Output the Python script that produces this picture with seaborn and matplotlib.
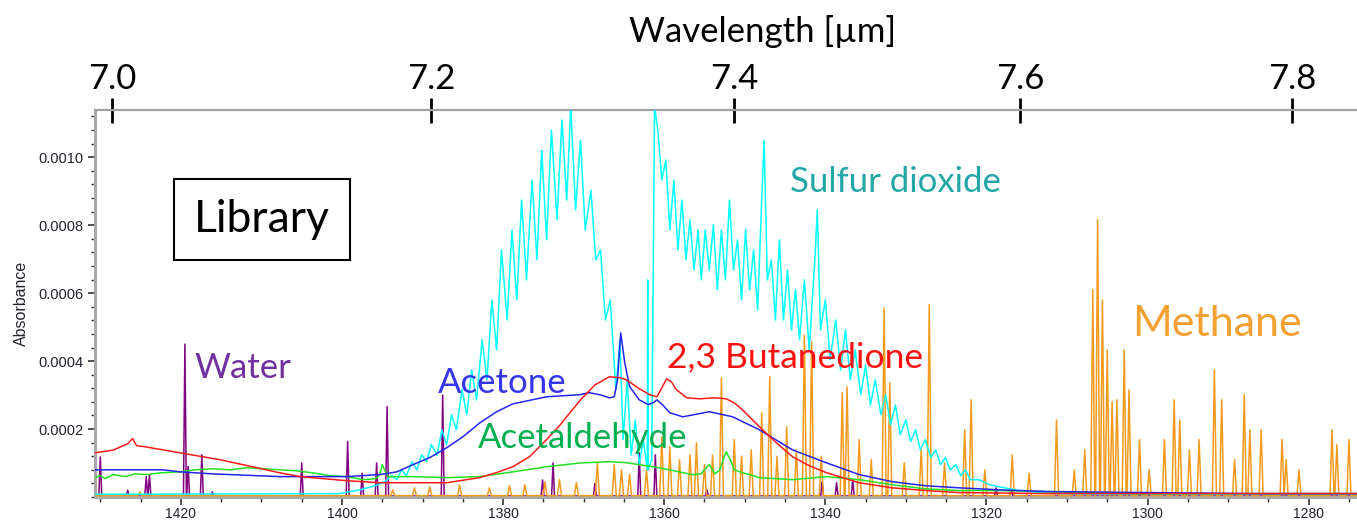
import numpy as np
import pandas as pd
import matplotlib
matplotlib.use("Agg")
import matplotlib.pyplot as plt
import seaborn as sns
from matplotlib.ticker import MultipleLocator, FixedLocator

# ---------------- data (wavenumber [cm-1], absorbance) ----------------
so2_wn = [1430.66, 1400.3, 1397.8, 1395.9, 1394.7, 1393.8, 1393.2, 1392.6, 1392.0, 1391.3,
          1390.7, 1390.1, 1389.5, 1388.9, 1388.2, 1387.6, 1387.0, 1386.4, 1385.8, 1385.1,
          1384.5, 1383.9, 1383.3, 1382.6, 1382.0, 1381.4, 1380.8, 1380.2, 1379.5, 1378.9,
          1378.3, 1377.7, 1377.1, 1376.4, 1375.8, 1375.2, 1374.6, 1374.0, 1373.3, 1372.7,
          1372.1, 1371.6, 1371.0, 1370.4, 1369.8, 1369.1, 1368.5, 1367.9, 1367.3, 1366.7,
          1366.0, 1365.5, 1365.1, 1364.6, 1364.1, 1363.6, 1363.1, 1362.6, 1362.1, 1362.05,
          1362.0, 1361.55, 1361.2, 1360.8, 1360.3, 1359.8, 1359.3, 1358.8, 1358.3, 1357.8,
          1357.3, 1356.8, 1356.3, 1355.8, 1355.4, 1354.9, 1354.4, 1353.9, 1353.4, 1352.9,
          1352.4, 1351.9, 1351.4, 1350.9, 1350.4, 1349.9, 1349.4, 1348.9, 1348.4, 1347.9,
          1347.6, 1347.2, 1346.7, 1346.2, 1345.7, 1345.2, 1344.7, 1344.2, 1343.7, 1343.2,
          1342.6, 1342.0, 1341.3, 1341.0, 1340.6, 1340.0, 1339.4, 1338.7, 1338.1, 1337.5,
          1336.9, 1336.3, 1335.6, 1335.0, 1334.4, 1333.8, 1333.1, 1332.5, 1331.9, 1331.3,
          1330.7, 1330.0, 1329.4, 1328.8, 1328.2, 1327.6, 1326.9, 1326.3, 1325.7, 1325.1,
          1324.5, 1323.8, 1323.2, 1322.6, 1322.0, 1320.9, 1319.6, 1318.4, 1317.1, 1315.9,
          1313.4, 1310.9, 1306.0, 1274.0]
so2_abs = [0.000008, 0.000010, 0.000021, 0.000033, 0.000045, 0.000063, 0.000051, 0.000080, 0.000063, 0.000104,
           0.000080, 0.000124, 0.000104, 0.000154, 0.000124, 0.000198, 0.000154, 0.000242, 0.000198, 0.000316,
           0.000242, 0.000374, 0.000286, 0.000463, 0.000345, 0.000580, 0.000433, 0.000727, 0.000521, 0.000786,
           0.000580, 0.000874, 0.000639, 0.000933, 0.000698, 0.001020, 0.000757, 0.001080, 0.000816, 0.001110,
           0.000874, 0.001150, 0.000845, 0.001050, 0.000786, 0.000903, 0.000698, 0.000727, 0.000521, 0.000580,
           0.000316, 0.000463, 0.000169, 0.000345, 0.000124, 0.000227, 0.000095, 0.000169, 0.000080, 0.000639,
           0.000080, 0.000110, 0.001150, 0.001080, 0.000933, 0.000992, 0.000786, 0.000933, 0.000727, 0.000874,
           0.000698, 0.000816, 0.000668, 0.000786, 0.000639, 0.000786, 0.000668, 0.000801, 0.000610, 0.000786,
           0.000639, 0.000874, 0.000668, 0.000757, 0.000580, 0.000786, 0.000610, 0.000727, 0.000551, 0.000874,
           0.001050, 0.000639, 0.000698, 0.000521, 0.000757, 0.000521, 0.000668, 0.000492, 0.000610, 0.000463,
           0.000639, 0.000433, 0.000698, 0.000845, 0.000492, 0.000580, 0.000404, 0.000521, 0.000374, 0.000492,
           0.000345, 0.000433, 0.000301, 0.000389, 0.000271, 0.000345, 0.000242, 0.000301, 0.000213, 0.000271,
           0.000183, 0.000227, 0.000163, 0.000198, 0.000139, 0.000169, 0.000116, 0.000139, 0.000095, 0.000116,
           0.000080, 0.000095, 0.000063, 0.000080, 0.000051, 0.000051, 0.000036, 0.000030, 0.000024, 0.000019,
           0.000013, 0.000010, 0.000008, 0.000008]

butanedione_wn = [1430.66, 1428.4, 1426.6, 1426.0, 1425.5, 1424.5, 1420.1, 1415.2, 1411.1, 1407.7,
                  1405.2, 1399.4, 1395.3, 1387.0, 1382.9, 1380.8, 1378.8, 1376.7, 1374.6, 1373.0,
                  1370.5, 1368.6, 1366.8, 1365.5, 1364.7, 1363.1, 1361.8, 1360.9, 1360.3, 1359.7,
                  1359.1, 1358.5, 1357.2, 1355.6, 1353.7, 1352.3, 1351.3, 1350.3, 1348.2, 1346.1,
                  1344.1, 1342.0, 1339.9, 1335.8, 1331.7, 1327.5, 1323.4, 1312.2, 1274.0]
butanedione_abs = [0.000130, 0.000138, 0.000157, 0.000172, 0.000151, 0.000148, 0.000130, 0.000110, 0.000089, 0.000071,
                   0.000060, 0.000048, 0.000042, 0.000042, 0.000057, 0.000072, 0.000089, 0.000119, 0.000169, 0.000210,
                   0.000283, 0.000330, 0.000354, 0.000351, 0.000345, 0.000319, 0.000301, 0.000295, 0.000321, 0.000348,
                   0.000339, 0.000316, 0.000292, 0.000289, 0.000292, 0.000289, 0.000277, 0.000257, 0.000207, 0.000160,
                   0.000119, 0.000092, 0.000072, 0.000042, 0.000027, 0.000019, 0.000013, 0.000010, 0.000010]

acetone_wn = [1430.66, 1422.2, 1420.1, 1416.0, 1407.7, 1399.4, 1395.3, 1393.2, 1391.2, 1389.1,
              1387.0, 1385.0, 1382.9, 1380.8, 1378.8, 1374.6, 1370.5, 1369.3, 1368.0, 1366.8,
              1366.2, 1365.8, 1365.4, 1365.2, 1364.9, 1364.3, 1363.1, 1362.0, 1361.4, 1360.9,
              1360.2, 1359.3, 1357.7, 1354.4, 1351.5, 1348.2, 1344.1, 1339.9, 1335.8, 1331.7,
              1327.5, 1323.4, 1318.4, 1312.2, 1299.8, 1287.3, 1274.0]
acetone_abs = [0.000080, 0.000080, 0.000074, 0.000068, 0.000060, 0.000060, 0.000066, 0.000074, 0.000095, 0.000116,
               0.000145, 0.000177, 0.000218, 0.000251, 0.000274, 0.000295, 0.000301, 0.000307, 0.000301, 0.000292,
               0.000295, 0.000345, 0.000483, 0.000448, 0.000395, 0.000325, 0.000286, 0.000272, 0.000277, 0.000286,
               0.000271, 0.000248, 0.000236, 0.000251, 0.000236, 0.000198, 0.000139, 0.000101, 0.000066, 0.000045,
               0.000033, 0.000027, 0.000021, 0.000016, 0.000013, 0.000010, 0.000010]

acetaldehyde_wn = [1430.66, 1430.0, 1429.4, 1428.4, 1426.9, 1425.7, 1424.2, 1422.6, 1420.1, 1418.3,
                   1416.0, 1413.9, 1411.8, 1409.6, 1407.7, 1405.6, 1403.6, 1401.5, 1399.4, 1397.4,
                   1395.8, 1395.3, 1395.0, 1394.7, 1394.3, 1391.2, 1387.0, 1382.9, 1378.8, 1374.6,
                   1370.5, 1366.8, 1364.7, 1360.6, 1356.5, 1355.4, 1354.7, 1354.4, 1353.7, 1353.1,
                   1352.6, 1352.3, 1351.8, 1351.3, 1350.6, 1348.2, 1344.1, 1339.9, 1335.8, 1331.7,
                   1327.5, 1323.4, 1318.4, 1312.2, 1303.9, 1274.0]
acetaldehyde_abs = [0.000057, 0.000063, 0.000054, 0.000066, 0.000060, 0.000068, 0.000066, 0.000071, 0.000074, 0.000080,
                    0.000083, 0.000080, 0.000086, 0.000083, 0.000080, 0.000077, 0.000071, 0.000063, 0.000060, 0.000051,
                    0.000054, 0.000066, 0.000095, 0.000080, 0.000060, 0.000060, 0.000057, 0.000060, 0.000074, 0.000089,
                    0.000100, 0.000104, 0.000101, 0.000086, 0.000066, 0.000068, 0.000089, 0.000095, 0.000068, 0.000080,
                    0.000116, 0.000133, 0.000110, 0.000080, 0.000074, 0.000057, 0.000051, 0.000060, 0.000051, 0.000036,
                    0.000024, 0.000019, 0.000019, 0.000016, 0.000010, 0.000010]

water_peak_wn = [1430.0, 1426.6, 1424.3, 1423.9, 1419.5, 1419.1, 1417.4, 1416.1, 1405.0, 1399.3,
                 1397.5, 1395.7, 1394.4, 1387.5, 1375.1, 1373.8, 1368.6, 1363.1, 1361.1, 1354.7,
                 1340.4, 1338.6, 1336.6, 1318.8, 1316.9]
water_peak_abs = [0.000118, 0.000020, 0.000060, 0.000066, 0.000450, 0.000090, 0.000125, 0.000015, 0.000100, 0.000163,
                  0.000070, 0.000100, 0.000266, 0.000300, 0.000050, 0.000100, 0.000040, 0.000130, 0.000124, 0.000021,
                  0.000045, 0.000042, 0.000051, 0.000027, 0.000021]
water_base = 0.000003

methane_peak_wn = [1425.1, 1393.7, 1391.0, 1389.1, 1385.4, 1381.7, 1379.2, 1377.3, 1374.8, 1373.0,
                   1370.9, 1368.3, 1366.2, 1365.3, 1364.3, 1362.2, 1360.3, 1359.3, 1358.1, 1356.8,
                   1356.0, 1355.0, 1354.0, 1352.9, 1351.3, 1350.4, 1349.2, 1347.9, 1346.9, 1346.0,
                   1344.8, 1343.6, 1342.6, 1341.7, 1340.5, 1337.9, 1337.3, 1335.8, 1334.3, 1332.7,
                   1332.0, 1330.2, 1328.1, 1327.1, 1325.2, 1322.7, 1321.9, 1320.2, 1316.8, 1314.7,
                   1311.3, 1309.1, 1307.8, 1306.8, 1306.2, 1305.6, 1305.0, 1304.4, 1303.8, 1302.9,
                   1302.3, 1301.0, 1299.8, 1297.9, 1296.7, 1296.0, 1294.8, 1293.6, 1291.7, 1290.8,
                   1289.2, 1288.0, 1287.3, 1285.9, 1283.3, 1282.8, 1281.2, 1277.1, 1276.5, 1275.0]
methane_peak_abs = [0.000015, 0.000021, 0.000027, 0.000030, 0.000036, 0.000027, 0.000033, 0.000036, 0.000045, 0.000051,
                    0.000042, 0.000101, 0.000095, 0.000080, 0.000066, 0.000080, 0.000177, 0.000148, 0.000110, 0.000124,
                    0.000160, 0.000095, 0.000124, 0.000351, 0.000169, 0.000120, 0.000139, 0.000248, 0.000354, 0.000120,
                    0.000207, 0.000139, 0.000477, 0.000457, 0.000120, 0.000307, 0.000324, 0.000169, 0.000110, 0.000557,
                    0.000336, 0.000101, 0.000140, 0.000566, 0.000100, 0.000198, 0.000286, 0.000080, 0.000124, 0.000070,
                    0.000227, 0.000080, 0.000139, 0.000610, 0.000816, 0.000580, 0.000433, 0.000280, 0.000286, 0.000433,
                    0.000316, 0.000169, 0.000080, 0.000169, 0.000286, 0.000227, 0.000139, 0.000169, 0.000374, 0.000286,
                    0.000110, 0.000301, 0.000198, 0.000198, 0.000169, 0.000110, 0.000080, 0.000198, 0.000154, 0.000169]
methane_base = 0.000004

x_ticks = [1420, 1400, 1380, 1360, 1340, 1320, 1300, 1280]
y_ticks = [0.0002, 0.0004, 0.0006, 0.0008, 0.0010]
y_tick_labels = ["0.0002", "0.0004", "0.0006", "0.0008", "0.0010"]
wl_ticks = [7.0, 7.2, 7.4, 7.6, 7.8]
wl_tick_labels = ["7.0", "7.2", "7.4", "7.6", "7.8"]

X_LEFT, X_RIGHT = 1430.66, 1274.0


def line_spectrum(centers, heights, base, half):
    """Stick-like spectrum table: baseline on each side of every read peak."""
    xs, ys = [X_LEFT], [base]
    for c, h in sorted(zip(centers, heights), reverse=True):
        xs += [c + half, c, c - half]
        ys += [base, h, base]
    xs.append(X_RIGHT)
    ys.append(base)
    return pd.DataFrame({"wn": xs, "abs": ys})


# ---------------- figure ----------------
sns.set_style("white")
plt.rcParams["font.family"] = ["Liberation Sans", "DejaVu Sans"]
CAL = ["Lato", "DejaVu Sans"]

W, H = 1357, 523
fig = plt.figure(figsize=(W / 100, H / 100), dpi=100)
ax = fig.add_axes([95 / W, 1 - 497 / H, 1 - 95 / W, (497 - 110) / H])

lw = 1.1
series = [
    (line_spectrum(water_peak_wn, water_peak_abs, water_base, 0.18), "#800080", 2),
    (line_spectrum(methane_peak_wn, methane_peak_abs, methane_base, 0.25), "#F39A1E", 3),
    (pd.DataFrame({"wn": so2_wn, "abs": so2_abs}), "#00FFFF", 4),
    (pd.DataFrame({"wn": acetaldehyde_wn, "abs": acetaldehyde_abs}), "#22E022", 5),
    (pd.DataFrame({"wn": acetone_wn, "abs": acetone_abs}), "#2424F0", 6),
    (pd.DataFrame({"wn": butanedione_wn, "abs": butanedione_abs}), "#FF1A1A", 7),
]
for df, col, z in series:
    sns.lineplot(data=df, x="wn", y="abs", ax=ax, color=col, lw=lw, sort=False,
                 estimator=None, zorder=z)

ax.set_xlim(X_LEFT, X_RIGHT)
ax.set_ylim(0, 0.001139)
ax.set_xlabel("")
ax.set_ylabel("")

ax.xaxis.set_major_locator(FixedLocator(x_ticks))
ax.xaxis.set_minor_locator(MultipleLocator(5))
ax.set_xticklabels([str(v) for v in x_ticks])
ax.yaxis.set_major_locator(FixedLocator(y_ticks))
ax.yaxis.set_minor_locator(MultipleLocator(0.00004))
ax.set_yticklabels(y_tick_labels)

ax.tick_params(axis="x", which="major", direction="out", length=6, width=1.2,
               color="#333333", labelsize=10, labelcolor="#22222e", pad=1.5, bottom=True)
ax.tick_params(axis="x", which="minor", direction="out", length=3.5, width=1.0,
               color="#333333", bottom=True)
ax.tick_params(axis="y", which="major", direction="out", length=5, width=1.2,
               color="#333333", labelsize=10.5, labelcolor="#22222e", pad=3, left=True)
ax.tick_params(axis="y", which="minor", direction="out", length=3, width=1.0,
               color="#333333", left=True)

for s in ["bottom", "left"]:
    ax.spines[s].set_color("#A8A8A8")
    ax.spines[s].set_linewidth(2.2)
ax.spines["top"].set_color("#A0A0A0")
ax.spines["top"].set_linewidth(1.5)
ax.spines["right"].set_visible(False)

# top wavelength axis
inv = lambda v: 1e4 / np.asarray(v, dtype=float)
secax = ax.secondary_xaxis("top", functions=(inv, inv))
secax.xaxis.set_major_locator(FixedLocator(wl_ticks))
secax.set_xticklabels(wl_tick_labels, fontfamily=CAL)
secax.xaxis.set_minor_locator(FixedLocator([]))
secax.tick_params(axis="x", direction="inout", length=18, width=2, color="black",
                  labelsize=25, labelcolor="black", pad=2)
secax.spines["top"].set_color("#A0A0A0")
secax.spines["top"].set_linewidth(1.5)

fig.text(763 / W, 1 - 31 / H, "Wavelength [µm]", ha="center", va="center",
         fontsize=25, family=CAL, color="black")
fig.text(21.5 / W, 1 - 303 / H, "Absorbance", rotation=90, ha="center", va="center",
         fontsize=11.5, color="#22222e")

# annotations
ax.text(1409.9, 0.000816, "Library", ha="center", va="center", fontsize=32, family=CAL,
        color="black", zorder=10,
        bbox=dict(boxstyle="square,pad=0.45", fc="white", ec="black", lw=1.5))
ax.text(1344.4, 0.000898, "Sulfur dioxide", ha="left", va="baseline", fontsize=25,
        family=CAL, color="#22A6A6", zorder=10)
ax.text(1301.9, 0.000474, "Methane", ha="left", va="baseline", fontsize=31,
        family=CAL, color="#F5A033", zorder=10)
ax.text(1418.3, 0.000351, "Water", ha="left", va="baseline", fontsize=25,
        family=CAL, color="#7030A0", zorder=10)
ax.text(1388.1, 0.000306, "Acetone", ha="left", va="baseline", fontsize=25,
        family=CAL, color="#3535EE", zorder=10)
ax.text(1359.7, 0.000382, "2,3 Butanedione", ha="left", va="baseline", fontsize=25.5,
        family=CAL, color="#FF1010", zorder=10)
ax.text(1383.1, 0.000144, "Acetaldehyde", ha="left", va="baseline", fontsize=25,
        family=CAL, color="#00B050", zorder=10)

fig.savefig("out.png", dpi=100)
